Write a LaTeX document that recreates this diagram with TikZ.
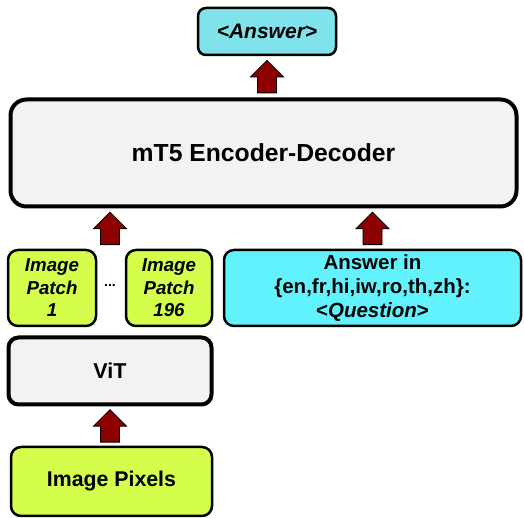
\documentclass[tikz,border=0pt]{standalone}
\usepackage{fontspec}
\setmainfont{Liberation Sans}
\usetikzlibrary{calc}
\definecolor{ansfill}{HTML}{80E2EA}
\definecolor{qfill}{HTML}{62F2FE}
\definecolor{lime}{HTML}{D4FD4C}
\definecolor{grayfill}{HTML}{F2F2F2}
\definecolor{arrowred}{HTML}{8E0000}
\newcommand{\blkarrow}[3]{%
  \path[arrowshape] let \p1=(#1), \p2=(#2.north), \p3=(#3.south),
    \n1={(\y2+\y3)/2} in
    (\x1-9.5,\n1-16) -- (\x1+9.5,\n1-16) -- (\x1+9.5,\n1) -- (\x1+16.5,\n1)
    -- (\x1,\n1+16.5) -- (\x1-16.5,\n1) -- (\x1-9.5,\n1) -- cycle;}
\begin{document}
\begin{tikzpicture}[x=1pt,y=1pt,
  box/.style={draw=black, align=center, inner sep=0pt, font=\bfseries},
  thickbox/.style={box, line width=4pt, fill=grayfill},
  thinbox/.style={box, line width=2.5pt},
  arrowshape/.style={fill=arrowred, draw=black, line width=0.8pt, line join=miter}]
\useasboundingbox (0,0) rectangle (524,518);
\fill[white] (0,0) rectangle (524,518);

\node[thinbox, fill=ansfill, rounded corners=8pt, minimum width=138pt, minimum height=47pt,
  font=\bfseries\itshape\fontsize{21}{24}\selectfont] (ans) at (267,486.5) {<Answer>};

\node[thickbox, rounded corners=16pt, minimum width=506pt, minimum height=107pt,
  font=\bfseries\fontsize{24.7}{28}\selectfont] (mt5) at (263.5,365) {mT5 Encoder-Decoder};

\node[thinbox, fill=lime, rounded corners=10pt, minimum width=88pt, minimum height=76pt,
  font=\bfseries\itshape\fontsize{18.7}{22.5}\selectfont] (p1) at (52,230) {Image\\Patch\\1};
\node[thinbox, fill=lime, rounded corners=10pt, minimum width=86pt, minimum height=76pt,
  font=\bfseries\itshape\fontsize{18.7}{22.5}\selectfont] (p196) at (169,230) {Image\\Patch\\196};
\node[font=\bfseries\fontsize{14}{16}\selectfont, inner sep=0pt] (dots) at (110,233) {...};

\node[thinbox, fill=qfill, rounded corners=10pt, minimum width=297pt, minimum height=76pt,
  font=\bfseries\fontsize{20.5}{24}\selectfont] (q) at (372.5,230)
  {Answer in\\\{en,fr,hi,iw,ro,th,zh\}:\\<\textit{Question}>};

\node[thickbox, rounded corners=10pt, minimum width=203pt, minimum height=67pt,
  font=\bfseries\fontsize{21.5}{24}\selectfont] (vit) at (110,147) {ViT};

\node[thinbox, fill=lime, rounded corners=10pt, minimum width=201pt, minimum height=69pt,
  font=\bfseries\fontsize{21.3}{24}\selectfont] (pix) at (111.5,36.5) {Image Pixels};

\blkarrow{ans}{mt5}{ans}
\blkarrow{dots}{p1}{mt5}
\blkarrow{q.north}{q}{mt5}
\blkarrow{vit}{pix}{vit}
\end{tikzpicture}
\end{document}
